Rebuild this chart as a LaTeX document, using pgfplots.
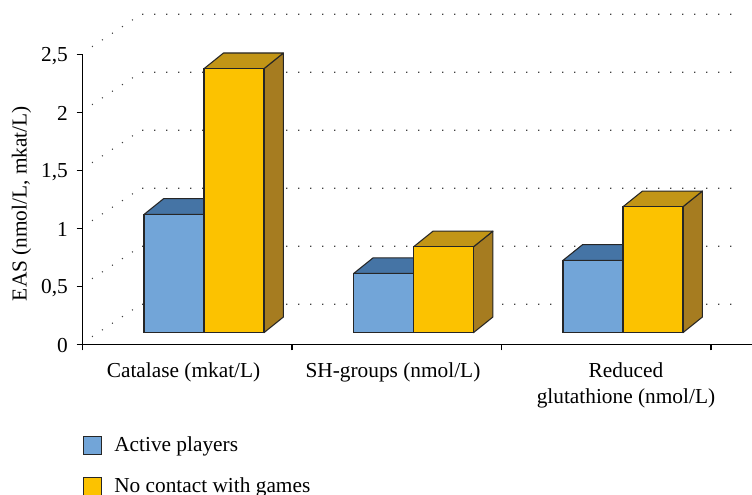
\documentclass[border=0pt]{standalone}
\usepackage{pgfplots}
\usepackage{fontspec}
\setmainfont{Liberation Serif}
\pgfplotsset{compat=1.18}
\definecolor{bluefront}{HTML}{72A5D8}
\definecolor{bluetop}{HTML}{4574A5}
\definecolor{yelfront}{HTML}{FCC200}
\definecolor{yeltop}{HTML}{C29516}
\definecolor{yelside}{HTML}{A67C20}
\pgfplotsset{
  griddots/.style={black!75,line width=0.8pt,dash pattern=on 0.8pt off 8.2pt,forget plot},
  depth/.style={xshift=12.56pt,yshift=8.7pt,draw=black!85,line width=0.8pt,line join=round,forget plot},
  front/.style={ybar,bar width=45pt,xshift=12.56pt,yshift=8.7pt,draw=black!85,line width=0.8pt},
}
\begin{document}
\begin{tikzpicture}
\useasboundingbox (0,0) rectangle (564pt,370.5pt);
\begin{axis}[
  at={(61.9pt,112.3pt)},anchor=south west,
  scale only axis,width=502.1pt,height=217.5pt,
  xmin=-0.5,xmax=2.6957,ymin=0,ymax=2.5,clip=false,
  axis lines=left,axis line style={-,black,line width=0.8pt},
  tick align=outside,major tick length=4.5pt,
  tick style={black,line width=0.8pt},
  xtick={-0.5,0.5,1.5,2.5},xticklabels={},
  extra x ticks={-0.0179,0.982,2.094},
  extra x tick labels={Catalase (mkat/L),SH-groups (nmol/L),Reduced\\glutathione (nmol/L)},
  extra x tick style={major tick length=0pt,tick style={draw=none}},
  xticklabel style={align=center,font=\fontsize{16}{20}\selectfont,yshift=-10pt},
  ytick={0,0.5,1,1.5,2,2.5},yticklabels={0,{0,5},1,{1,5},2,{2,5}},
  yticklabel style={font=\fontsize{16}{18}\selectfont,xshift=-3pt,yshift=-1pt},
  ylabel={EAS (nmol/L, mkat/L)},
  every axis y label/.style={at={(axis cs:-0.791,1.213)},rotate=90,anchor=center,font=\fontsize{16}{18}\selectfont},
  legend style={at={(axis cs:-0.5,-0.794)},anchor=north west,draw=none,fill=none,inner sep=0pt,outer sep=0pt,
    row sep=16.25pt,font=\fontsize{16}{18}\selectfont,legend cell align=left,
    /tikz/every odd column/.append style={column sep=9.5pt},
    nodes={inner sep=0pt,outer sep=0pt,anchor=base west}},
  legend image code/.code={\draw[#1,bar width=0pt,xshift=0pt,yshift=0pt] (0pt,-11.25pt) rectangle (13.5pt,2.25pt);},
  legend cell align=left,
]
% back-wall dotted gridlines
\addplot[griddots] coordinates {(-0.4547,0.065)(-0.2208,0.345)(2.643,0.345)};
\addplot[griddots] coordinates {(-0.4547,0.565)(-0.2208,0.845)(2.643,0.845)};
\addplot[griddots] coordinates {(-0.4547,1.065)(-0.2208,1.345)(2.643,1.345)};
\addplot[griddots] coordinates {(-0.4547,1.565)(-0.2208,1.845)(2.643,1.845)};
\addplot[griddots] coordinates {(-0.4547,2.065)(-0.2208,2.345)(2.643,2.345)};
\addplot[griddots] coordinates {(-0.4547,2.565)(-0.2208,2.845)(2.643,2.845)};
% blue tops
\addplot[depth,fill=bluetop] coordinates {(-0.286,1.02)(0,1.02)(0.093,1.155)(-0.193,1.155)} --cycle;
\addplot[depth,fill=bluetop] coordinates {(0.714,0.51)(1,0.51)(1.093,0.645)(0.807,0.645)} --cycle;
\addplot[depth,fill=bluetop] coordinates {(1.714,0.624)(2,0.624)(2.093,0.759)(1.807,0.759)} --cycle;
% blue fronts
\addplot[front,bar shift=-22.5pt,fill=bluefront] coordinates {(0,1.02)(1,0.51)(2,0.624)};
\addlegendentry{Active players}
% yellow sides and tops
\addplot[depth,fill=yelside] coordinates {(0.286,0)(0.379,0.135)(0.379,2.411)(0.286,2.276)} --cycle;
\addplot[depth,fill=yelside] coordinates {(1.286,0)(1.379,0.135)(1.379,0.875)(1.286,0.74)} --cycle;
\addplot[depth,fill=yelside] coordinates {(2.286,0)(2.379,0.135)(2.379,1.221)(2.286,1.086)} --cycle;
\addplot[depth,fill=yeltop] coordinates {(0,2.276)(0.286,2.276)(0.379,2.411)(0.093,2.411)} --cycle;
\addplot[depth,fill=yeltop] coordinates {(1,0.74)(1.286,0.74)(1.379,0.875)(1.093,0.875)} --cycle;
\addplot[depth,fill=yeltop] coordinates {(2,1.086)(2.286,1.086)(2.379,1.221)(2.093,1.221)} --cycle;
% yellow fronts
\addplot[front,bar shift=22.5pt,fill=yelfront] coordinates {(0,2.276)(1,0.74)(2,1.086)};
\addlegendentry{No contact with games}
\end{axis}
\end{tikzpicture}
\end{document}
